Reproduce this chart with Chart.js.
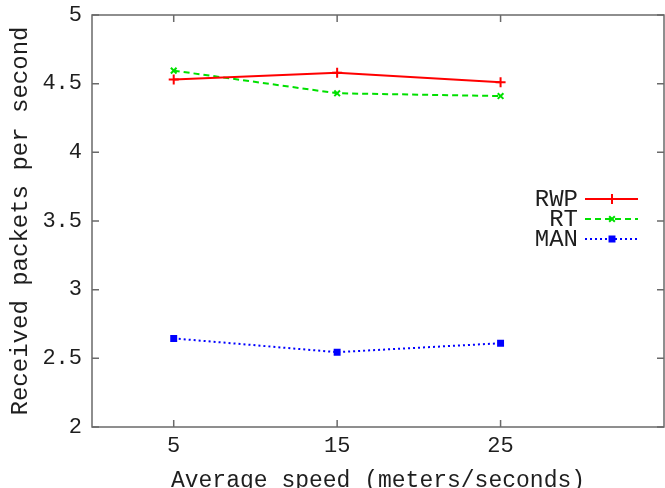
<!DOCTYPE html>
<html>
<head>
<meta charset="utf-8">
<script src="https://cdn.jsdelivr.net/npm/chart.js@4/dist/chart.umd.min.js"></script>
<style>
html,body{margin:0;padding:0;background:#fff;}
#wrap{width:665px;height:488px;position:relative;}
</style>
</head>
<body>
<div id="wrap"><canvas id="c" width="665" height="488"></canvas></div>
<script>
const speeds = [5, 15, 25];
const rwp = [4.53, 4.58, 4.51];
const rt = [4.595, 4.43, 4.41];
const man = [2.645, 2.545, 2.61];
const xTicks = [5, 15, 25];
const yTickLabels = ['2', '2.5', '3', '3.5', '4', '4.5', '5'];
const seriesNames = ['RWP', 'RT', 'MAN'];

const FONT = "'Liberation Mono', 'DejaVu Sans Mono', monospace";
const AXIS = '#6a6a6a';
const TEXT = '#1e1e1e';

function pts(vals){ return speeds.map((s,i)=>({x:s, y:vals[i]})); }

const styles = [
  {color:'#ff0000', dash:[], point:'cross', r:5},
  {color:'#00e000', dash:[6,4], point:'crossRot', r:4},
  {color:'#0000ff', dash:[2,3], point:'rect', r:3.5}
];

const frame = {
  id:'frame',
  beforeDatasetsDraw(chart){
    const {ctx, chartArea:a, scales:{x,y}} = chart;
    ctx.save();
    ctx.strokeStyle = AXIS;
    ctx.lineWidth = 1.5;
    ctx.strokeRect(a.left, a.top, a.right-a.left, a.bottom-a.top);
    ctx.beginPath();
    const L = 7;
    x.ticks.forEach(t=>{
      const px = x.getPixelForValue(t.value);
      ctx.moveTo(px, a.bottom); ctx.lineTo(px, a.bottom-L);
      ctx.moveTo(px, a.top); ctx.lineTo(px, a.top+L);
    });
    y.ticks.forEach(t=>{
      const py = y.getPixelForValue(t.value);
      ctx.moveTo(a.left, py); ctx.lineTo(a.left+L, py);
      ctx.moveTo(a.right, py); ctx.lineTo(a.right-L, py);
    });
    ctx.stroke();
    ctx.restore();
  }
};

const gnuLegend = {
  id:'gnuLegend',
  afterDatasetsDraw(chart){
    const {ctx} = chart;
    ctx.save();
    ctx.font = "24px " + FONT;
    ctx.textAlign = 'right';
    ctx.textBaseline = 'middle';
    const ys = [199, 219, 239];
    chart.data.datasets.forEach((ds,i)=>{
      const yy = ys[i];
      ctx.fillStyle = TEXT;
      ctx.fillText(ds.label, 578, yy+1);
      ctx.strokeStyle = ds.borderColor;
      ctx.lineWidth = ds.borderWidth;
      ctx.setLineDash(ds.borderDash || []);
      ctx.beginPath(); ctx.moveTo(585, yy); ctx.lineTo(638, yy); ctx.stroke();
      ctx.setLineDash([]);
      const opts = {pointStyle: ds.pointStyle, radius: ds.pointRadius, borderWidth: ds.pointBorderWidth, rotation:0};
      ctx.fillStyle = ds.pointBackgroundColor;
      ctx.strokeStyle = ds.pointBorderColor;
      ctx.lineWidth = ds.pointBorderWidth;
      if (Chart.helpers && Chart.helpers.drawPoint) {
        Chart.helpers.drawPoint(ctx, opts, 612, yy);
      }
    });
    ctx.restore();
  }
};

const datasets = [rwp, rt, man].map((vals,i)=>({
  label: seriesNames[i],
  data: pts(vals),
  borderColor: styles[i].color,
  backgroundColor: styles[i].color,
  borderWidth: 2,
  borderDash: styles[i].dash,
  pointStyle: styles[i].point,
  pointRadius: styles[i].r,
  pointBorderWidth: 2,
  pointBorderColor: styles[i].color,
  pointBackgroundColor: styles[i].color,
  tension: 0,
  fill: false
}));

new Chart(document.getElementById('c'), {
  type: 'line',
  data: {datasets},
  options: {
    responsive: false,
    animation: false,
    devicePixelRatio: 1,
    layout: {autoPadding: false, padding: {top: 15, right: 1, left: 0, bottom: 0}},
    plugins: {legend: {display:false}, tooltip:{enabled:false}},
    scales: {
      x: {
        type: 'linear',
        min: 0, max: 35,
        afterBuildTicks(s){ s.ticks = xTicks.map(v=>({value:v})); },
        afterFit(s){ s.height = 61; s.paddingLeft = 0; s.paddingRight = 0; },
        grid: {display:false, drawTicks:false},
        border: {display:false},
        ticks: {
          color: TEXT, padding: 6,
          font: {family: FONT, size: 22},
          callback: v => String(v)
        },
        title: {
          display: true, text: 'Average speed (meters/seconds)',
          color: TEXT, font: {family: FONT, size: 23, lineHeight: 1},
          padding: {top: 0, bottom: -4}
        }
      },
      y: {
        min: 2, max: 5,
        afterBuildTicks(s){ s.ticks = yTickLabels.map(l=>({value: parseFloat(l)})); },
        afterFit(s){ s.width = 92; s.paddingTop = 0; s.paddingBottom = 0; },
        grid: {display:false, drawTicks:false},
        border: {display:false},
        ticks: {
          color: TEXT, padding: 10,
          font: {family: FONT, size: 22},
          callback: (v, i) => yTickLabels[i]
        },
        title: {
          display: true, text: 'Received packets per second',
          color: TEXT, font: {family: FONT, size: 24, lineHeight: 1},
          padding: {top: 9, bottom: 0}
        }
      }
    }
  },
  plugins: [frame, gnuLegend]
});
</script>
</body>
</html>
